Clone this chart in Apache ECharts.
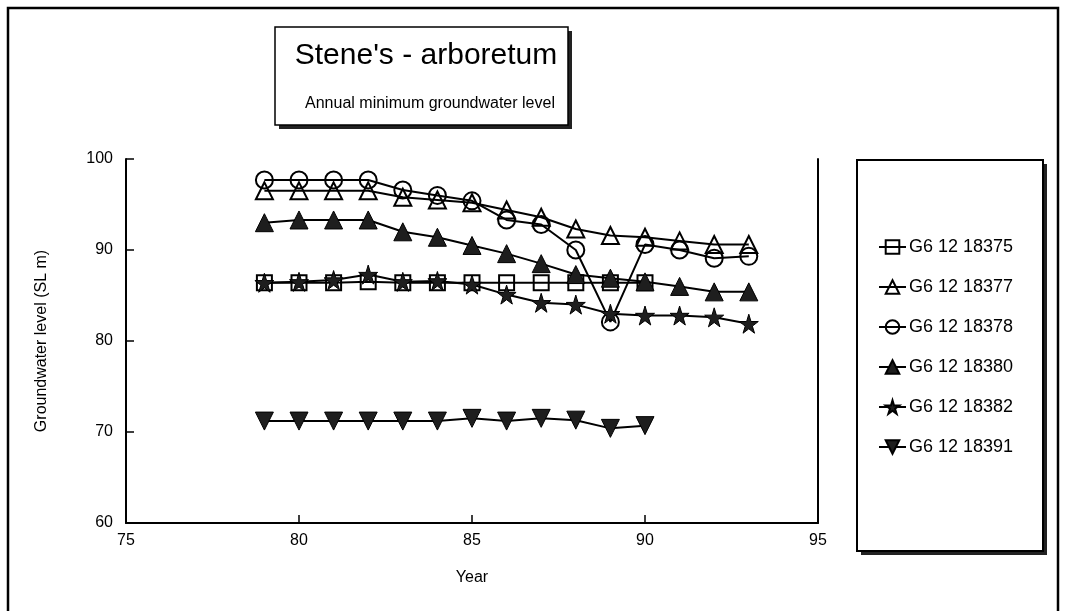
<!DOCTYPE html>
<html>
<head>
<meta charset="utf-8">
<script src="https://cdn.jsdelivr.net/npm/echarts@6/dist/echarts.min.js"></script>
<style>
  html, body { margin: 0; padding: 0; background: #fff; }
  #chart { width: 1066px; height: 611px; }
</style>
</head>
<body>
<div id="chart"></div>
<script>
// Years (19xx) of the annual minimum readings
const years = [79, 80, 81, 82, 83, 84, 85, 86, 87, 88, 89, 90, 91, 92, 93];

// Annual minimum groundwater level (m above sea level) per well
const g375 = [86.4, 86.4, 86.4, 86.5, 86.4, 86.4, 86.4, 86.4, 86.4, 86.4, 86.4, 86.4];
const g377 = [96.5, 96.5, 96.5, 96.5, 95.8, 95.5, 95.2, 94.4, 93.6, 92.3, 91.6, 91.4, 91.0, 90.6, 90.6];
const g378 = [97.7, 97.7, 97.7, 97.7, 96.6, 96.0, 95.4, 93.3, 92.8, 90.0, 82.1, 90.6, 90.0, 89.1, 89.3];
const g380 = [93.0, 93.3, 93.3, 93.3, 92.0, 91.4, 90.5, 89.6, 88.5, 87.3, 86.9, 86.5, 86.0, 85.4, 85.4];
const g382 = [86.4, 86.5, 86.7, 87.3, 86.5, 86.6, 86.2, 85.1, 84.2, 84.0, 83.0, 82.8, 82.8, 82.6, 81.9];
const g391 = [71.2, 71.2, 71.2, 71.2, 71.2, 71.2, 71.5, 71.2, 71.5, 71.3, 70.4, 70.7];

const seriesNames = ['G6 12 18375', 'G6 12 18377', 'G6 12 18378', 'G6 12 18380', 'G6 12 18382', 'G6 12 18391'];

const xTicks = { min: 75, max: 95, step: 5 };
const yTicks = { min: 60, max: 100, step: 10 };

const FONT = '"Liberation Sans", Arial, sans-serif';
const STAR = 'path://M50,0 L61,35 L98,35 L68,57 L79,91 L50,70 L21,91 L32,57 L2,35 L39,35 Z';

function pairs(values) {
  return values.map((v, i) => [years[i], v]);
}

function well(name, values, symbol, filled, size, rotate) {
  return {
    name: name,
    type: 'line',
    data: pairs(values),
    symbol: symbol,
    symbolSize: size,
    symbolRotate: rotate || 0,
    showSymbol: true,
    animation: false,
    lineStyle: { color: '#000', width: 2 },
    itemStyle: filled
      ? { color: '#1e1e1e', borderColor: '#000', borderWidth: 1 }
      : { color: 'rgba(255,255,255,0)', borderColor: '#000', borderWidth: 2 },
    emphasis: { disabled: true }
  };
}

const chart = echarts.init(document.getElementById('chart'), null, { renderer: 'canvas' });

chart.setOption({
  backgroundColor: '#fff',
  animation: false,
  title: [
    {
      text: "Stene's - arboretum",
      left: 421, top: 36, textAlign: 'center',
      textStyle: { fontFamily: FONT, fontSize: 30, fontWeight: 'normal', color: '#000' }
    },
    {
      text: 'Annual minimum groundwater level',
      left: 425, top: 91, textAlign: 'center',
      textStyle: { fontFamily: FONT, fontSize: 16, fontWeight: 'normal', color: '#000' }
    }
  ],
  graphic: [
    // outer chart frame
    { type: 'rect', z: -10, shape: { x: 8, y: 8, width: 1050, height: 640 },
      style: { fill: 'none', stroke: '#000', lineWidth: 2.5 } },
    // title box with drop shadow
    { type: 'rect', z: -9, shape: { x: 279, y: 31, width: 293, height: 98 },
      style: { fill: '#222' } },
    { type: 'rect', z: -8, shape: { x: 275, y: 27, width: 293, height: 98 },
      style: { fill: '#fff', stroke: '#000', lineWidth: 1.5 } },
    // legend box with drop shadow
    { type: 'rect', z: -9, shape: { x: 861, y: 164, width: 186, height: 391 },
      style: { fill: '#222' } },
    { type: 'rect', z: -8, shape: { x: 857, y: 160, width: 186, height: 391 },
      style: { fill: '#fff', stroke: '#000', lineWidth: 2 } }
  ],
  legend: {
    orient: 'vertical',
    left: 873, top: 233,
    itemWidth: 27, itemHeight: 17, itemGap: 22,
    textStyle: { fontFamily: FONT, fontSize: 18, color: '#000', padding: [0, 0, 0, -2] },
    data: seriesNames
  },
  grid: { left: 126, right: 248, top: 159, bottom: 88, containLabel: false },
  xAxis: {
    type: 'value',
    min: xTicks.min, max: xTicks.max, interval: xTicks.step,
    name: 'Year', nameLocation: 'middle', nameGap: 47,
    nameTextStyle: { fontFamily: FONT, fontSize: 16, color: '#000' },
    axisLine: { lineStyle: { color: '#000', width: 2 } },
    axisTick: { inside: true, length: 8, lineStyle: { color: '#000', width: 1.5 } },
    axisLabel: { fontFamily: FONT, fontSize: 16, color: '#000', margin: 10 },
    splitLine: { show: false }
  },
  yAxis: [
    {
      type: 'value',
      min: yTicks.min, max: yTicks.max, interval: yTicks.step,
      name: 'Groundwater level (SL m)', nameLocation: 'middle', nameGap: 76,
      nameTextStyle: { fontFamily: FONT, fontSize: 16, color: '#000' },
      axisLine: { show: true, lineStyle: { color: '#000', width: 2 } },
      axisTick: { show: true, inside: true, length: 8, lineStyle: { color: '#000', width: 1.5 } },
      axisLabel: { fontFamily: FONT, fontSize: 16, color: '#000', margin: 13 },
      splitLine: { show: false }
    },
    {
      // right edge of the plot area
      type: 'value', position: 'right',
      min: yTicks.min, max: yTicks.max, interval: yTicks.step,
      axisLine: { show: true, lineStyle: { color: '#000', width: 2 } },
      axisTick: { show: false }, axisLabel: { show: false }, splitLine: { show: false }
    }
  ],
  series: [
    well(seriesNames[0], g375, 'rect', false, 15),
    well(seriesNames[1], g377, 'triangle', false, 17),
    well(seriesNames[2], g378, 'circle', false, 17),
    well(seriesNames[3], g380, 'triangle', true, 18),
    well(seriesNames[4], g382, STAR, true, 19),
    well(seriesNames[5], g391, 'triangle', true, 18, 180)
  ]
});
</script>
</body>
</html>
